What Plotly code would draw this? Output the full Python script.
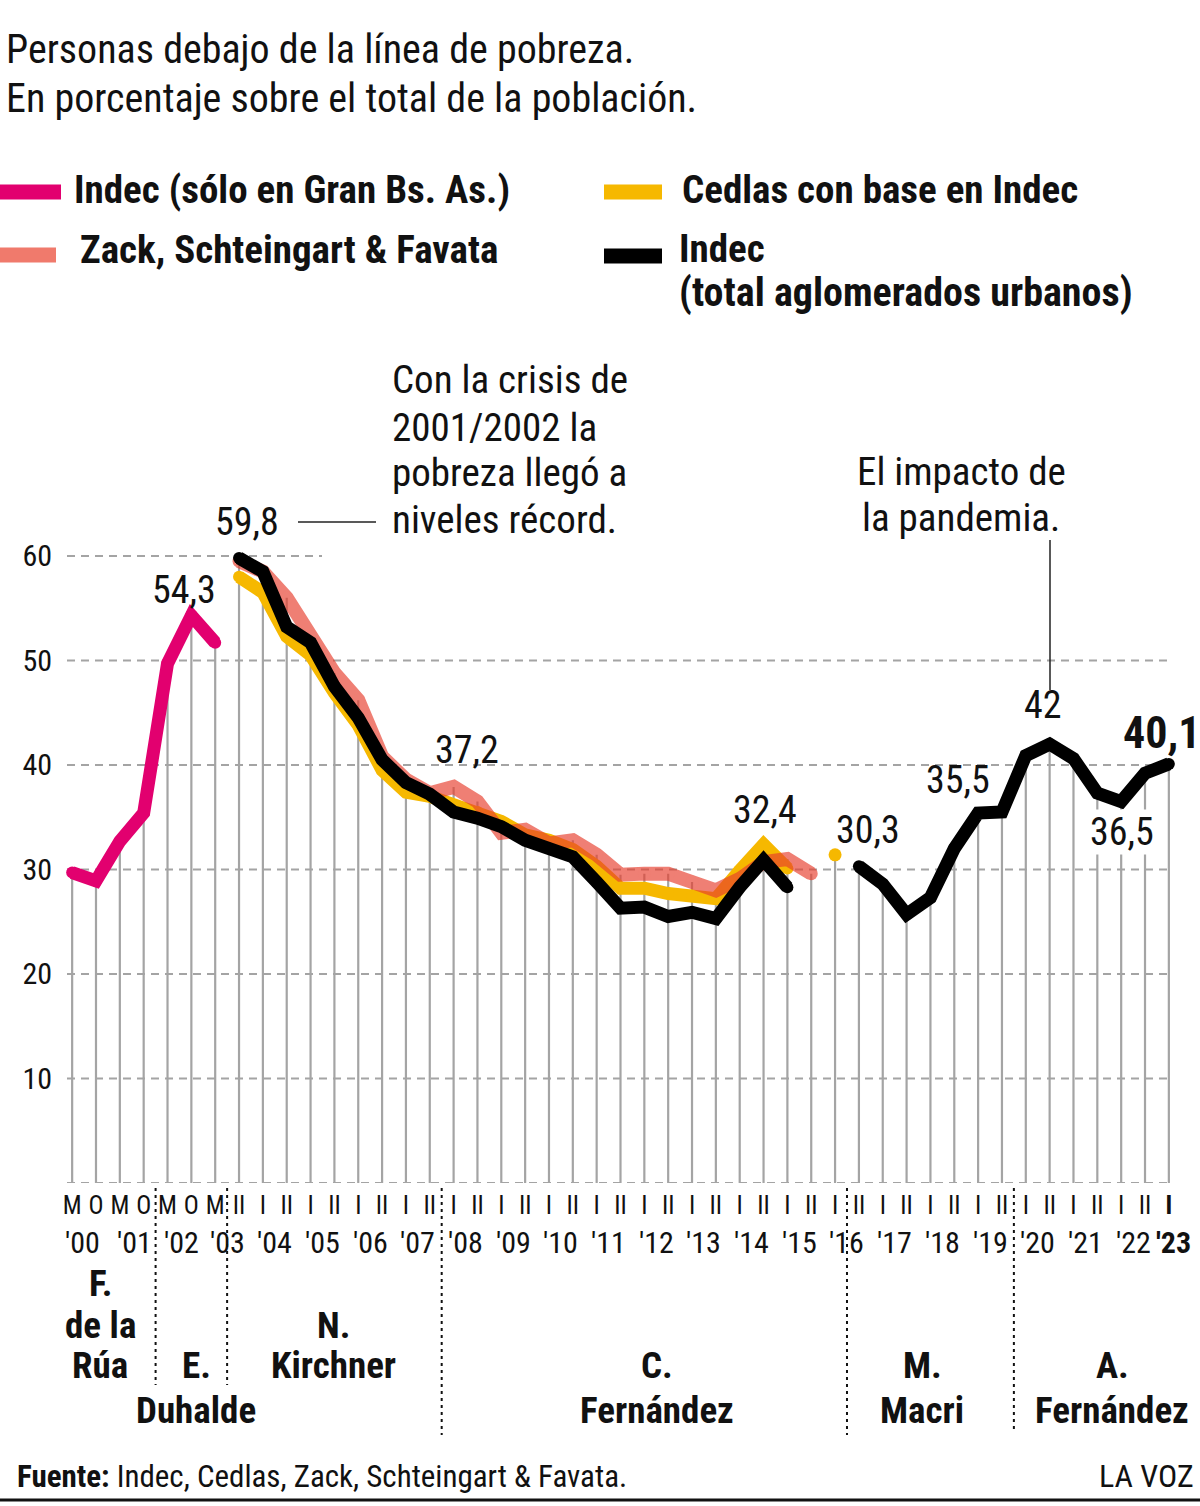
import plotly.graph_objects as go

# ---------------- data ----------------
semester_labels = ["M", "O", "M", "O", "M", "O", "M", "II"] + ["I", "II"] * 19 + ["I"]
year_labels = ["'00", "'01", "'02", "'03", "'04", "'05", "'06", "'07", "'08", "'09", "'10",
               "'11", "'12", "'13", "'14", "'15", "'16", "'17", "'18", "'19", "'20", "'21",
               "'22", "'23"]

N = len(semester_labels)  # 47 periods: May/Oct 2000-2003, then semesters 2003-II .. 2023-I

# Indec (sólo Gran Buenos Aires), ondas mayo/octubre 2000-2003
indec_gba = [29.7, 28.9, 32.7, 35.4, 49.7, 54.3, 51.7]
# Indec total aglomerados urbanos (2003-II .. 2015-I) and (2016-II .. 2023-I)
indec_total_a = [59.8, 58.5, 53.2, 51.7, 47.5, 44.5, 40.5, 38.3, 37.2, 35.5, 34.9, 34.1,
                 32.8, 32.0, 31.2, 28.8, 26.3, 26.4, 25.5, 25.9, 25.3, 28.3, 30.9, 28.3]
indec_total_b = [30.3, 28.6, 25.7, 27.3, 32.0, 35.4, 35.5, 40.9, 42.0, 40.6, 37.3, 36.5,
                 39.2, 40.1]
# Cedlas con base en Indec (2003-II .. 2015-I) + 2016-I
cedlas = [58.0, 56.5, 52.3, 50.5, 46.9, 43.8, 39.5, 37.4, 37.0, 36.2, 35.5, 34.6, 33.3,
          32.8, 31.9, 30.3, 28.2, 28.2, 27.7, 27.5, 27.2, 29.9, 32.4, 30.1]
cedlas_2016 = 31.4
# Zack, Schteingart & Favata (2003-II .. 2015-II)
zack = [59.5, 58.5, 56.0, 52.3, 48.8, 46.2, 40.8, 38.6, 37.3, 37.9, 36.5, 33.5, 33.8,
        32.5, 32.8, 31.4, 29.5, 29.6, 29.6, 28.8, 28.0, 29.1, 30.7, 31.0, 29.6]

# build full-length series (None = no data)
def full(values, start):
    s = [None] * N
    for k, v in enumerate(values):
        s[start + k] = v
    return s

s_gba = full(indec_gba, 0)
s_total = full(indec_total_a, 7)
s_total_b = full(indec_total_b, 33)
for i, v in enumerate(s_total_b):
    if v is not None:
        s_total[i] = v
s_cedlas = full(cedlas, 7)
s_cedlas_dot = full([cedlas_2016], 32)
s_zack = full(zack, 7)

# ---------------- styling ----------------
FONT = "Liberation Sans Narrow, Roboto Condensed, Roboto, sans-serif"
PINK = "#E2006F"
SALMON = "rgb(232,62,45)"
YELLOW = "#F6B800"
BLACK = "#000000"
GRID = "#A4A4A4"
LW = 13

# plot area in pixels
W, H = 1200, 1506
L, R, T, B = 65, 1176, 535, 1183


def px(x):
    return (x - L) / (R - L)


def py(y):
    return (B - y) / (B - T)


fig = go.Figure()

# vertical drop lines from 0 to the top value of each period
vx, vy = [], []
for i in range(N):
    vals = [v for v in (s_gba[i], s_total[i], s_cedlas[i], s_cedlas_dot[i], s_zack[i]) if v is not None]
    if vals:
        vx += [i, i, None]
        vy += [0, max(vals), None]
fig.add_trace(go.Scatter(x=vx, y=vy, mode="lines", line=dict(color=GRID, width=2.2),
                         hoverinfo="skip", showlegend=False))

idx = list(range(N))
fig.add_trace(go.Scatter(x=idx, y=s_cedlas, mode="lines+markers", line=dict(color=YELLOW, width=LW),
                         marker=dict(color=YELLOW, size=LW - 1), connectgaps=False, showlegend=False))
fig.add_trace(go.Scatter(x=idx, y=s_cedlas_dot, mode="markers",
                         marker=dict(color=YELLOW, size=LW), showlegend=False))
fig.add_trace(go.Scatter(x=idx, y=s_zack, mode="lines+markers", line=dict(color=SALMON, width=LW + 1),
                         marker=dict(color=SALMON, size=LW), opacity=0.66, connectgaps=False,
                         showlegend=False))
fig.add_trace(go.Scatter(x=idx, y=s_gba, mode="lines+markers", line=dict(color=PINK, width=LW),
                         marker=dict(color=PINK, size=LW - 1), connectgaps=False, showlegend=False))
fig.add_trace(go.Scatter(x=idx, y=s_total, mode="lines+markers", line=dict(color=BLACK, width=LW),
                         marker=dict(color=BLACK, size=LW - 1), connectgaps=False, showlegend=False))

shapes = []
# horizontal dashed gridlines
for g in [0, 10, 20, 30, 40, 50]:
    shapes.append(dict(type="line", xref="paper", yref="y", x0=px(67), x1=px(1172), y0=g, y1=g,
                       line=dict(color=GRID, width=2, dash="8px,6px"), layer="below"))
shapes.append(dict(type="line", xref="paper", yref="y", x0=px(67), x1=px(322), y0=60, y1=60,
                   line=dict(color=GRID, width=2, dash="8px,6px"), layer="below"))

# presidency separators
for xs, ybot in [(3.5, 1385), (6.5, 1385), (15.5, 1435), (32.5, 1435), (39.5, 1432)]:
    shapes.append(dict(type="line", xref="x", yref="paper", x0=xs, x1=xs, y0=py(1188), y1=py(ybot),
                       line=dict(color="#111", width=2, dash="3px,4px")))

# leader lines
shapes.append(dict(type="line", xref="paper", yref="paper", x0=px(298), x1=px(376), y0=py(522), y1=py(522),
                   line=dict(color="#222", width=1.5)))
shapes.append(dict(type="line", xref="paper", yref="paper", x0=px(1050), x1=px(1050), y0=py(540), y1=py(690),
                   line=dict(color="#222", width=1.5)))

# legend swatches
for (x0, x1, yc, col) in [(0, 61, 192, PINK), (0, 56, 255, "#F07A6C"), (604, 662, 192, YELLOW), (604, 662, 256, BLACK)]:
    shapes.append(dict(type="line", xref="paper", yref="paper", x0=px(x0), x1=px(x1), y0=py(yc), y1=py(yc),
                       line=dict(color=col, width=15)))

# bottom rule
shapes.append(dict(type="line", xref="paper", yref="paper", x0=px(0), x1=px(1200), y0=py(1500), y1=py(1500),
                   line=dict(color="#111", width=3)))

ann = []


def text(x, y, s, size, xanchor="left", color="#111", bg=None):
    d = dict(x=px(x), y=py(y), xref="paper", yref="paper", text=s, showarrow=False,
             xanchor=xanchor, yanchor="middle", font=dict(family=FONT, size=size, color=color))
    if bg:
        d["bgcolor"] = bg
        d["borderpad"] = 0
    ann.append(d)


# title
text(4, 50, "Personas debajo de la línea de pobreza.", 40)
text(4, 98, "En porcentaje sobre el total de la población.", 40)

# legend texts
text(72, 190, "<b>Indec (sólo en Gran Bs. As.)</b>", 39)
text(78, 250, "<b>Zack, Schteingart & Favata</b>", 39)
text(680, 190, "<b>Cedlas con base en Indec</b>", 39)
text(677, 249, "<b>Indec</b>", 39)
text(677, 293, "<b>(total aglomerados urbanos)</b>", 40)

# annotation blocks
for yy, s in [(380, "Con la crisis de"), (428, "2001/2002 la"), (473, "pobreza llegó a"), (520, "niveles récord.")]:
    text(390, yy, s, 39)
text(961, 472, "El impacto de", 39, xanchor="center")
text(961, 518, "la pandemia.", 39, xanchor="center")

# value labels
text(184, 590, "54,3", 38, xanchor="center")
text(247, 522, "59,8", 38, xanchor="center")
text(467, 750, "37,2", 38, xanchor="center")
text(765, 810, "32,4", 38, xanchor="center")
text(868, 830, "30,3", 38, xanchor="center")
text(958, 780, "35,5", 38, xanchor="center")
text(1043, 705, "42", 38, xanchor="center")
text(1122, 832, "36,5", 38, xanchor="center", bg="white")
text(1202, 733, "<b>40,1</b>", 44, xanchor="right")

# year labels under the axis
year_pos = [0.45, 2.6, 4.6, 6.5] + [8.5 + 2 * k for k in range(19)] + [46.2]
for yp, lab in zip(year_pos, year_labels):
    s = "<b>" + lab + "</b>" if lab == "'23" else lab
    ann.append(dict(x=yp, y=py(1242), xref="x", yref="paper", text=s, showarrow=False,
                    xanchor="center", yanchor="middle", font=dict(family=FONT, size=30, color="#111")))

# presidencies
pres = [(100, 1283, "F."), (100, 1325, "de la"), (100, 1365, "Rúa"),
        (196, 1365, "E."), (196, 1410, "Duhalde"),
        (333, 1325, "N."), (333, 1365, "Kirchner"),
        (657, 1365, "C."), (657, 1410, "Fernández"),
        (922, 1365, "M."), (922, 1410, "Macri"),
        (1112, 1365, "A."), (1112, 1410, "Fernández")]
for x, y, s in pres:
    text(x, y, "<b>" + s + "</b>", 37, xanchor="center")

# footer
text(15, 1476, "<b>Fuente:</b> Indec, Cedlas, Zack, Schteingart & Favata.", 31)
text(1196, 1476, "LA VOZ", 32, xanchor="right")

tick_text = [("<b>" + t + "</b>" if i == N - 1 else t) for i, t in enumerate(semester_labels)]

fig.update_layout(
    width=W, height=H,
    margin=dict(l=L, r=W - R, t=T, b=H - B, pad=0),
    paper_bgcolor="white", plot_bgcolor="white",
    showlegend=False,
    shapes=shapes, annotations=ann,
    font=dict(family=FONT, color="#111"),
    xaxis=dict(range=[-0.3, 46.3], tickvals=idx, ticktext=tick_text, ticks="", showgrid=False,
               zeroline=False, showline=False, tickfont=dict(family=FONT, size=25, color="#111"),
               ticklabelstandoff=5, tickangle=0),
    yaxis=dict(range=[0, 62], tickvals=[10, 20, 30, 40, 50, 60], ticks="", showgrid=False,
               zeroline=False, showline=False, tickfont=dict(family=FONT, size=30, color="#111"),
               ticklabelstandoff=12),
)

fig.write_html("out.html")
